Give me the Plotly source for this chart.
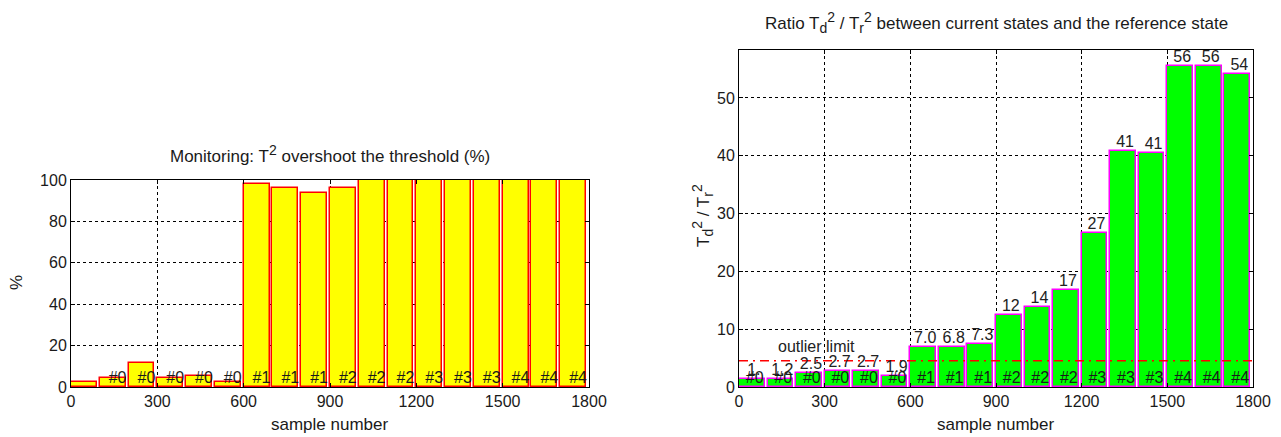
import plotly.graph_objects as go

# ---- data ----
sample_start = [0, 100, 200, 300, 400, 500, 600, 700, 800, 900,
                1000, 1100, 1200, 1300, 1400, 1500, 1600, 1700]
overshoot_pct = [2.4, 4.5, 11.7, 4.5, 5.1, 2.6, 98.2, 96.3, 93.9, 96.2,
                 100, 100, 100, 100, 100, 100, 100, 100]
state_labels_left = ["", "#0", "#0", "#0", "#0", "#0", "#1", "#1", "#1",
                     "#2", "#2", "#2", "#3", "#3", "#3", "#4", "#4", "#4"]
state_labels_right = ["#0", "#0", "#0", "#0", "#0", "#0", "#1", "#1", "#1",
                      "#2", "#2", "#2", "#3", "#3", "#3", "#4", "#4", "#4"]
t2_ratio = [1.3, 1.3, 2.5, 2.7, 2.7, 1.95, 7.0, 6.85, 7.4, 12.4,
            13.8, 16.7, 26.7, 40.8, 40.5, 55.6, 55.6, 54.2]
ratio_labels = ["1.", "1.2", "2.5", "2.7", "2.7", "1.9", "7.0", "6.8", "7.3",
                "12", "14", "17", "27", "41", "41", "56", "56", "54"]
outlier_limit = 4.55
x_ticks = [0, 300, 600, 900, 1200, 1500, 1800]

BIN_W = 90
FONT = "Liberation Sans, Arial, sans-serif"
OFF = 8                      # page body margin
W, H = 1281 - OFF, 437 - OFF
TXT = "#1a1a1a"


def px_x(x):
    return (x - OFF) / W


def px_y(y):
    return 1 - (y - OFF) / H


fig = go.Figure()

# left chart
fig.add_trace(go.Bar(x=sample_start, y=overshoot_pct, width=BIN_W, offset=0,
                     marker=dict(color="#FFFF00", line=dict(color="#FF0000", width=1.5)),
                     xaxis="x", yaxis="y", showlegend=False))
fig.add_trace(go.Scatter(x=[s + 62 for s in sample_start], y=[0] * len(sample_start),
                         text=state_labels_left, mode="text", textposition="top center",
                         textfont=dict(size=16, color=TXT, family=FONT),
                         xaxis="x", yaxis="y", showlegend=False, cliponaxis=False))

# right chart
fig.add_trace(go.Bar(x=sample_start, y=t2_ratio, width=BIN_W, offset=0,
                     marker=dict(color="#00FF00", line=dict(color="#FF00FF", width=1.5)),
                     xaxis="x2", yaxis="y2", showlegend=False))
fig.add_trace(go.Scatter(x=[0, 1800], y=[outlier_limit, outlier_limit], mode="lines",
                         line=dict(color="#FF0000", width=1.5, dash="9px,5px,2px,5px"),
                         xaxis="x2", yaxis="y2", showlegend=False, hoverinfo="skip"))
fig.add_trace(go.Scatter(x=[s + 52 for s in sample_start], y=t2_ratio,
                         text=ratio_labels, mode="text", textposition="top center",
                         textfont=dict(size=16, color="#222", family=FONT),
                         xaxis="x2", yaxis="y2", showlegend=False, cliponaxis=False))
fig.add_trace(go.Scatter(x=[s + 55 for s in sample_start], y=[0] * len(sample_start),
                         text=state_labels_right, mode="text", textposition="top center",
                         textfont=dict(size=16, color=TXT, family=FONT),
                         xaxis="x2", yaxis="y2", showlegend=False, cliponaxis=False))

axis_common = dict(showline=True, linecolor="black", linewidth=1, mirror="ticks",
                   ticks="inside", ticklen=4, tickcolor="black", automargin=False,
                   showgrid=True, gridcolor="black", gridwidth=1, griddash="3px,3px",
                   zeroline=False, tickfont=dict(size=16, color=TXT, family=FONT))

xd_left = [px_x(71), px_x(589)]
xd_right = [px_x(739), px_x(1253)]
yd_left = [px_y(387), px_y(180)]
yd_right = [px_y(387), px_y(50)]

fig.update_layout(
    width=W, height=H, margin=dict(l=0, r=0, t=0, b=0, autoexpand=False),
    plot_bgcolor="white", paper_bgcolor="white", bargap=0,
    font=dict(family=FONT, color=TXT),
    xaxis=dict(domain=xd_left, range=[0, 1800], tickvals=x_ticks, anchor="y", **axis_common),
    yaxis=dict(domain=yd_left, range=[0, 100], tickvals=[0, 20, 40, 60, 80, 100], anchor="x", **axis_common),
    xaxis2=dict(domain=xd_right, range=[0, 1800], tickvals=x_ticks, anchor="y2", **axis_common),
    yaxis2=dict(domain=yd_right, range=[0, 58.3], tickvals=[0, 10, 20, 30, 40, 50], anchor="x2", **axis_common),
)

BIG = "<span style='font-size:14px'>%s</span>"
ann = []
ann.append(dict(text="Monitoring: T<sup>" + BIG % "2" + "</sup> overshoot the threshold (%)",
                xref="paper", yref="paper",
                x=px_x((71 + 589) / 2), y=px_y(168), xanchor="center", yanchor="bottom",
                showarrow=False, font=dict(size=17, family=FONT, color=TXT)))
ann.append(dict(text="Ratio T<sub>" + BIG % "d" + "</sub><sup>" + BIG % "2" + "</sup> / T<sub>"
                + BIG % "r" + "</sub><sup>" + BIG % "2" + "</sup> between current states and the reference state",
                xref="paper", yref="paper",
                x=px_x((739 + 1253) / 2), y=px_y(38), xanchor="center", yanchor="bottom",
                showarrow=False, font=dict(size=17, family=FONT, color=TXT)))
for xc in [(71 + 589) / 2, (739 + 1253) / 2]:
    ann.append(dict(text="sample number", xref="paper", yref="paper",
                    x=px_x(xc), y=px_y(424), xanchor="center", yanchor="middle",
                    showarrow=False, font=dict(size=17, family=FONT, color=TXT)))
ann.append(dict(text="%", xref="paper", yref="paper", x=px_x(16), y=px_y(283),
                xanchor="center", yanchor="middle", textangle=-90, showarrow=False,
                font=dict(size=17, family=FONT, color=TXT)))
ann.append(dict(text="T<sub>" + BIG % "d" + "</sub><sup>" + BIG % "2" + "</sup> / T<sub>"
                + BIG % "r" + "</sub><sup>" + BIG % "2" + "</sup>",
                xref="paper", yref="paper", x=px_x(702), y=px_y(216),
                xanchor="center", yanchor="middle", textangle=-90, showarrow=False,
                font=dict(size=17, family=FONT, color=TXT)))
ann.append(dict(text="outlier limit", xref="x2", yref="y2", x=270, y=7.0,
                xanchor="center", yanchor="middle", showarrow=False,
                font=dict(size=16, family=FONT, color="#222")))
fig.update_layout(annotations=ann)

fig.write_html("out.html")
